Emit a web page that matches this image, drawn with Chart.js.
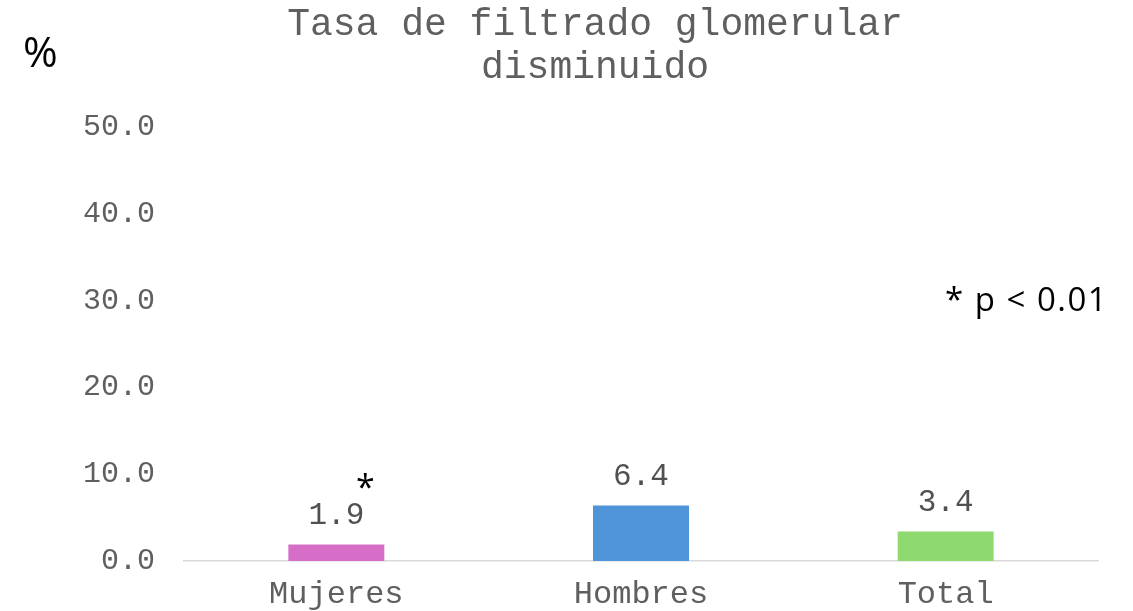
<!DOCTYPE html>
<html><head><meta charset="utf-8">
<script src="https://cdn.jsdelivr.net/npm/chart.js@4/dist/chart.umd.min.js"></script>
<style>html,body{margin:0;padding:0;background:#fff;}#wrap{width:1133px;height:611px;position:relative;}</style>
</head><body><div id="wrap"><canvas id="c" width="1133" height="611"></canvas></div>
<script>
const categories = ['Mujeres', 'Hombres', 'Total'];
const values = [1.9, 6.4, 3.4];
const barColors = ['#D66EC8', '#4F94D9', '#8FD971'];
const significance = ['*', '', ''];
const yTicks = [0, 10, 20, 30, 40, 50];
const titleLines = ['Tasa de filtrado glomerular', 'disminuido'];
const unitLabel = '%';
const noteText = '* p < 0.01';

const mono = "'Liberation Mono', 'Courier New', monospace";
const sans = "'Open Sans', 'Noto Sans', sans-serif";

const overlay = {
  id: 'overlay',
  afterDatasetsDraw(chart) {
    const ctx = chart.ctx;
    const meta = chart.getDatasetMeta(0);
    ctx.save();
    ctx.textAlign = 'center';
    ctx.textBaseline = 'middle';
    meta.data.forEach((bar, i) => {
      ctx.fillStyle = '#505050';
      ctx.font = '31px ' + mono;
      const ly = bar.y - 29;
      ctx.fillText(values[i].toFixed(1), bar.x, ly);
      if (significance[i]) {
        ctx.fillStyle = '#000';
        ctx.font = '34px ' + sans;
        ctx.fillText(significance[i], bar.x + 29, ly - 26);
      }
    });
    // title
    ctx.fillStyle = '#5f5f5f';
    ctx.font = '38px ' + mono;
    ctx.fillText(titleLines[0], 595, 25);
    ctx.fillText(titleLines[1], 595, 68);
    // unit
    ctx.fillStyle = '#000';
    ctx.font = '42px ' + sans;
    ctx.textAlign = 'left';
    ctx.fillText(unitLabel, 23, 55);
    // note
    ctx.font = '33px ' + sans;
    if ('letterSpacing' in ctx) ctx.letterSpacing = '1.5px';
    ctx.fillText(noteText, 945, 302);
    ctx.restore();
  }
};

new Chart(document.getElementById('c'), {
  type: 'bar',
  data: {
    labels: categories,
    datasets: [{
      data: values,
      backgroundColor: barColors,
      barPercentage: 0.315,
      categoryPercentage: 1.0
    }]
  },
  options: {
    responsive: false,
    animation: false,
    layout: { padding: { top: 127, left: 0, right: 35, bottom: 0 } },
    plugins: { legend: { display: false }, title: { display: false }, tooltip: { enabled: false } },
    scales: {
      x: {
        grid: { display: false, drawTicks: false },
        border: { display: true, color: '#D9D9D9', width: 1.5 },
        ticks: { color: '#5f5f5f', font: { family: mono, size: 32 }, padding: 14 },
        afterFit(s) { s.height = 50; }
      },
      y: {
        min: 0, max: 50,
        afterBuildTicks(s) { s.ticks = yTicks.map(v => ({ value: v })); },
        grid: { display: false, drawTicks: false },
        border: { display: false },
        ticks: { color: '#5f5f5f', font: { family: mono, size: 30 }, padding: 29, callback: v => Number(v).toFixed(1) },
        afterFit(s) { s.width = 184; }
      }
    }
  },
  plugins: [overlay]
});
</script></body></html>
